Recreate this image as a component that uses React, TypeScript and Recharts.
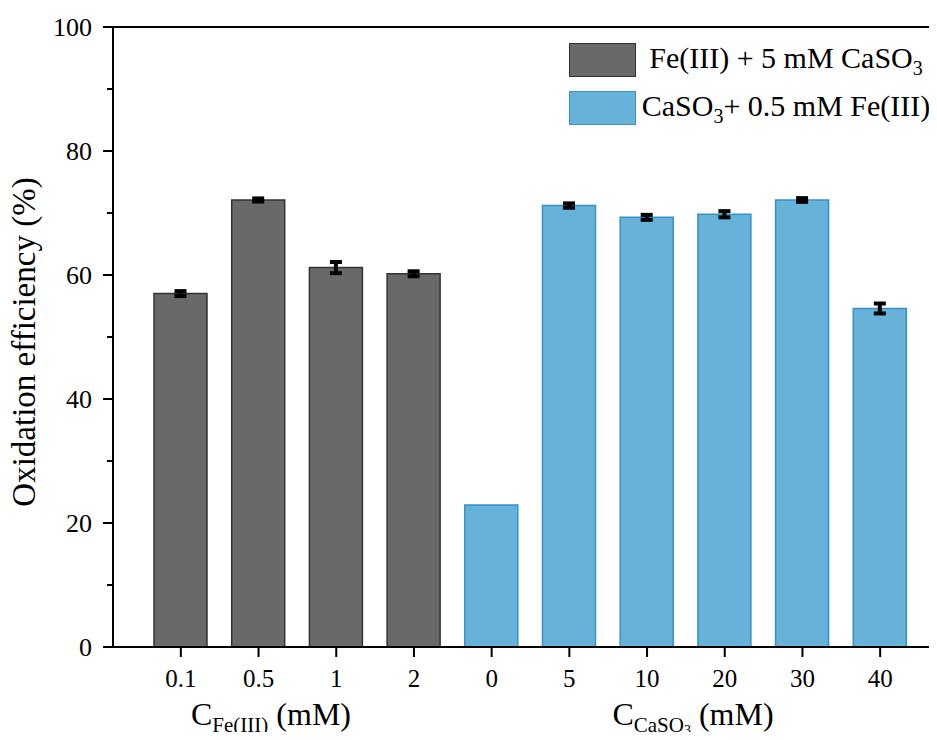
import {
  BarChart,
  Bar,
  XAxis,
  YAxis,
  Cell,
  ErrorBar,
  ReferenceLine,
  Customized,
} from "recharts";

const FONT = "'Liberation Serif', 'Times New Roman', serif";

// concentrations on the x axis (first four: Fe(III), last six: CaSO3)
const categories = ["0.1", "0.5", "1", "2", "0", "5", "10", "20", "30", "40"];
const groups = ["fe", "fe", "fe", "fe", "caso3", "caso3", "caso3", "caso3", "caso3", "caso3"];
// oxidation efficiency (%)
const efficiency = [57.0, 72.1, 61.2, 60.2, 22.9, 71.2, 69.3, 69.8, 72.1, 54.6];
const errors = [0.4, 0.25, 0.9, 0.4, 0, 0.35, 0.4, 0.5, 0.3, 0.8];
const yTicks = [0, 10, 20, 30, 40, 50, 60, 70, 80, 90, 100];

const colors: Record<string, { fill: string; stroke: string }> = {
  fe: { fill: "#696969", stroke: "#333333" },
  caso3: { fill: "#67B2D8", stroke: "#3592C9" },
};

const data = categories.map((c, i) => ({
  conc: c,
  value: efficiency[i],
  err: errors[i],
  group: groups[i],
}));

function YTick(props: any) {
  const { x, y, payload } = props;
  const major = payload.value % 20 === 0;
  return (
    <g>
      <line x1={x - (major ? 10 : 6)} x2={x} y1={y} y2={y} stroke="#000" strokeWidth={2} />
      {major && (
        <text x={x - 21} y={y} dy={9} textAnchor="end" fontSize={26} fontFamily={FONT} fill="#000">
          {payload.value}
        </text>
      )}
    </g>
  );
}

function Titles() {
  return (
    <g fontFamily={FONT} fill="#000">
      <text x={35} y={342} transform="rotate(-90 35 342)" textAnchor="middle" fontSize={33}>
        Oxidation efficiency (%)
      </text>
      <text x={271} y={725} textAnchor="middle" fontSize={32}>
        C<tspan fontSize={21} dy={7}>Fe(III)</tspan>
        <tspan dy={-7}> (mM)</tspan>
      </text>
      <text x={693} y={725} textAnchor="middle" fontSize={32}>
        C<tspan fontSize={21} dy={7}>CaSO</tspan>
        <tspan fontSize={14} dy={3}>3</tspan>
        <tspan dy={-10}> (mM)</tspan>
      </text>
    </g>
  );
}

function LegendBox() {
  const row = (key: string, label: React.ReactNode) => (
    <div style={{ display: "flex", alignItems: "center", height: 48 }}>
      <div
        style={{
          width: 67,
          height: 34,
          background: colors[key].fill,
          border: `1.5px solid ${colors[key].stroke}`,
          boxSizing: "border-box",
          flex: "none",
        }}
      />
      <div
        style={{
          width: 300,
          textAlign: "center",
          fontSize: 30,
          fontFamily: FONT,
          color: "#000",
          whiteSpace: "nowrap",
        }}
      >
        {label}
      </div>
    </div>
  );
  return (
    <div style={{ position: "absolute", left: 569, top: 36 }}>
      {row(
        "fe",
        <span>
          Fe(III) + 5 mM CaSO<sub style={{ fontSize: 20, verticalAlign: "-7px" }}>3</sub>
        </span>
      )}
      {row(
        "caso3",
        <span>
          CaSO<sub style={{ fontSize: 20, verticalAlign: "-7px" }}>3</sub>+ 0.5 mM Fe(III)
        </span>
      )}
    </div>
  );
}

export default function App() {
  return (
    <div style={{ margin: -8, width: 937, height: 740, background: "#fff", position: "relative" }}>
      <BarChart
        width={937}
        height={740}
        data={data}
        margin={{ top: 27, right: 0, bottom: 0, left: 0 }}
      >
        <XAxis
          dataKey="conc"
          height={93}
          padding={{ left: 29, right: 18 }}
          axisLine={{ stroke: "#000", strokeWidth: 2 }}
          tickLine={{ stroke: "#000", strokeWidth: 2 }}
          tickSize={10}
          tickMargin={12}
          tick={{ fill: "#000", fontSize: 25, fontFamily: FONT }}
          interval={0}
        />
        <YAxis
          width={113}
          domain={[0, 100]}
          ticks={yTicks}
          interval={0}
          axisLine={{ stroke: "#000", strokeWidth: 2 }}
          tickLine={false}
          tickSize={0}
          tickMargin={0}
          tick={<YTick />}
        />
        <ReferenceLine y={100} stroke="#000" strokeWidth={2} />
        <Bar dataKey="value" barSize={53} strokeWidth={1.5} isAnimationActive={false}>
          {data.map((d, i) => (
            <Cell key={i} fill={colors[d.group].fill} stroke={colors[d.group].stroke} />
          ))}
          <ErrorBar dataKey="err" width={6} stroke="#000" strokeWidth={4} />
        </Bar>
        <Customized component={Titles} />
      </BarChart>
      <LegendBox />
    </div>
  );
}
